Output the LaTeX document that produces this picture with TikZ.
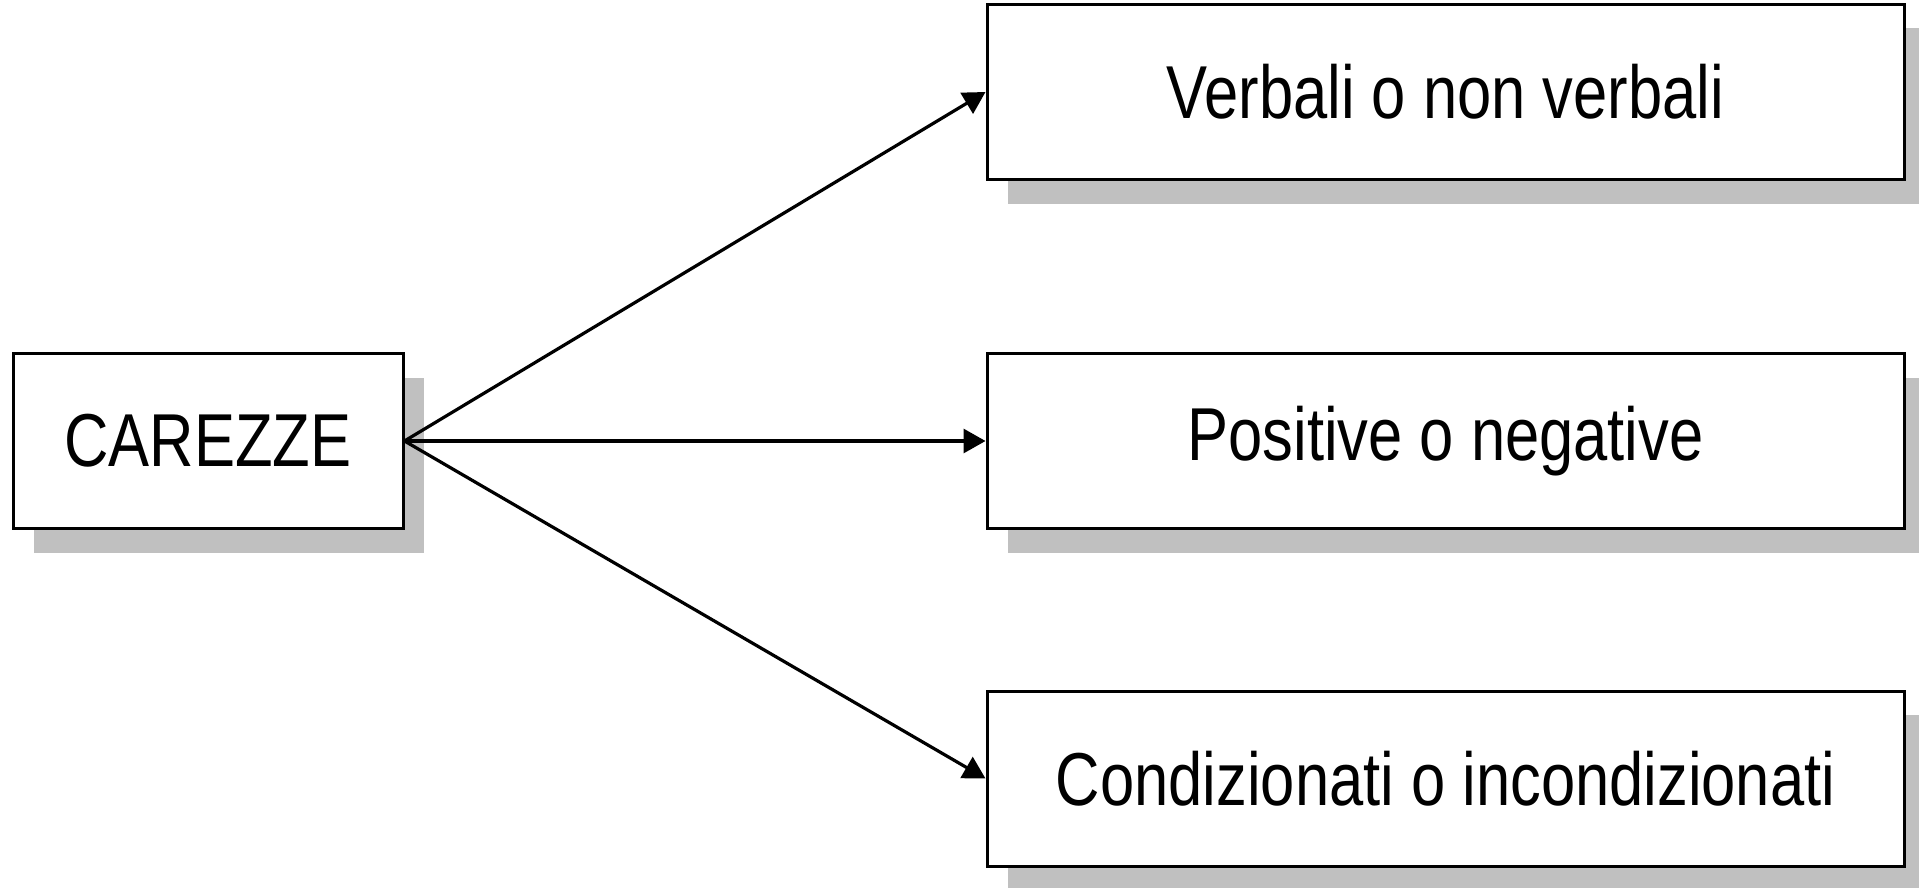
\documentclass[tikz,border=0pt]{standalone}
\usepackage{fontspec}
\setmainfont{Liberation Sans}[FakeStretch=0.82]
\usetikzlibrary{shadows,arrows.meta}
\definecolor{shadowgray}{HTML}{C0C0C0}
\tikzset{
  box/.style={draw=black, line width=3pt, fill=white, rectangle, inner sep=0pt,
    minimum height=175pt, font=\fontsize{75}{90}\selectfont,
    drop shadow={shadow xshift=21pt, shadow yshift=-24pt, fill=shadowgray, opacity=1}},
  link/.style={line width=3.2pt, -{Triangle[length=22pt,width=24pt]}}
}
\begin{document}
\begin{tikzpicture}[x=1pt,y=-1pt]
\useasboundingbox (0,0) rectangle (1919,888);
\clip (0,0) rectangle (1919,888);
\node[box, minimum width=390pt] (c) at (208,441) {CAREZZE};
\node[box, minimum width=917pt] (v) at (1445.5,92) {Verbali o non verbali};
\node[box, minimum width=917pt] (p) at (1445.5,441) {Positive o negative};
\node[box, minimum width=917pt] (k) at (1445.5,778.5) {Condizionati o incondizionati};
\draw[link] (c.east) -- (v.west);
\draw[link] (c.east) -- (p.west);
\draw[link] (c.east) -- (k.west);
\end{tikzpicture}
\end{document}
